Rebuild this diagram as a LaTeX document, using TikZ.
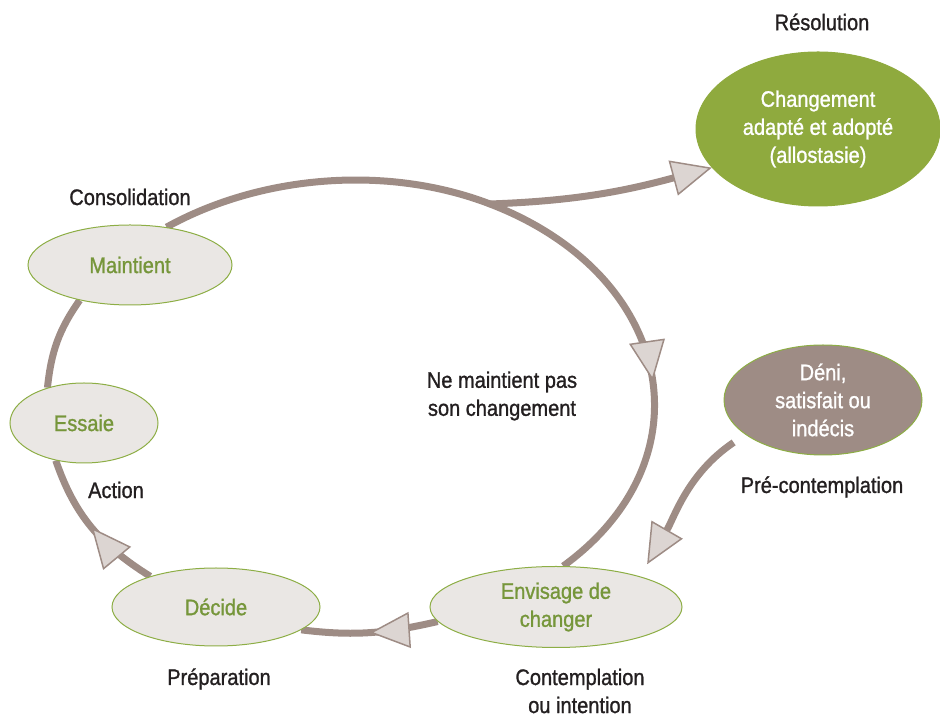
\documentclass[tikz,border=0pt]{standalone}
\usepackage{fontspec}
\setmainfont{Liberation Sans}[FakeStretch=0.89,FakeBold=1.1]
\usepackage{tikz}
\usetikzlibrary{shapes.geometric,arrows.meta,decorations.markings,positioning}

\definecolor{loopbrown}{HTML}{9E8C85}
\definecolor{tipfill}{HTML}{DCD5D2}
\definecolor{stagefill}{HTML}{EAE7E4}
\definecolor{stagegreen}{HTML}{8DAE45}
\definecolor{textgreen}{HTML}{76963A}
\definecolor{resolvegreen}{HTML}{8FAA3E}
\definecolor{labeldark}{HTML}{231F20}
\pgfdeclarelayer{background}
\pgfsetlayers{background,main}

\tikzset{bigtip/.tip={Triangle[length=40pt,width=36pt,line width=1.5pt,fill=tipfill]}}

\begin{document}
\begin{tikzpicture}[x=1pt,y=1pt,
  every node/.style={font=\fontsize{22.5}{28}\selectfont},
  stage/.style={draw=stagegreen,line width=1pt,ellipse,fill=stagefill,text=textgreen,inner sep=0pt,align=center},
  state/.style={draw=stagegreen,line width=1pt,ellipse,text=white,inner sep=0pt,align=center},
  phase/.style={text=labeldark,align=center},
  flow/.style={draw=loopbrown,line width=7pt},
  midtip/.style={postaction={decorate,decoration={markings,mark=at position #1 with {\arrow{bigtip}}}}}]
\useasboundingbox (0,0) rectangle (940,717);

% stages of the cycle
\node[stage,minimum width=204pt,minimum height=80pt] (maintient) at (130,452) {Maintient};
\node[stage,minimum width=148pt,minimum height=80pt] (essaie) at (84,294) {Essaie};
\node[stage,minimum width=208pt,minimum height=78pt] (decide) at (216,110) {Décide};
\node[stage,minimum width=252pt,minimum height=81pt] (envisage) at (556,110) {Envisage de\\changer};
\node[state,fill=resolvegreen,draw=resolvegreen,minimum width=244pt,minimum height=154pt] (changement) at (818,588) {Changement\\adapté et adopté\\(allostasie)};
\node[state,fill=loopbrown,minimum width=198pt,minimum height=110pt] (deni) at (823,317) {Déni,\\satisfait ou\\indécis};

% phase labels
\node[phase] (resolution) at (822,695) {Résolution};
\node[phase] (consolidation) at (130,520) {Consolidation};
\node[phase] (action) at (116,227) {Action};
\node[phase] (preparation) at (219,38) {Préparation};
\node[phase] (contemplation) at (580,26) {Contemplation\\ou intention};
\node[phase] (precontemplation) at (822,230) {Pré-contemplation};
\node[phase] (rechute) at (502,321) {Ne maintient pas\\son changement};

\coordinate (fork) at (490,513);

\begin{pgfonlayer}{background}
\draw[flow,midtip=0.5] (envisage.187) to[out=193,in=-7] (decide.-15);
\draw[flow,midtip=0.5] (decide.155) to[out=148,in=-71] (essaie.233);
\draw[flow] (essaie.136) to[out=84,in=-125] (maintient.215);
\draw[flow,midtip=0.73] (maintient.46) to[out=29,in=159,out distance=107pt,in distance=111pt] (fork)
  to[out=-21,in=36,out distance=197pt,in distance=183pt] (envisage.80);
\draw[flow,line cap=round,-bigtip] (fork) to[out=2,in=195] (changement.200);
\draw[flow,-bigtip,shorten <=14pt,shorten >=14pt] (deni.204) to[out=214,in=60] (envisage.20);
\end{pgfonlayer}
\end{tikzpicture}
\end{document}
